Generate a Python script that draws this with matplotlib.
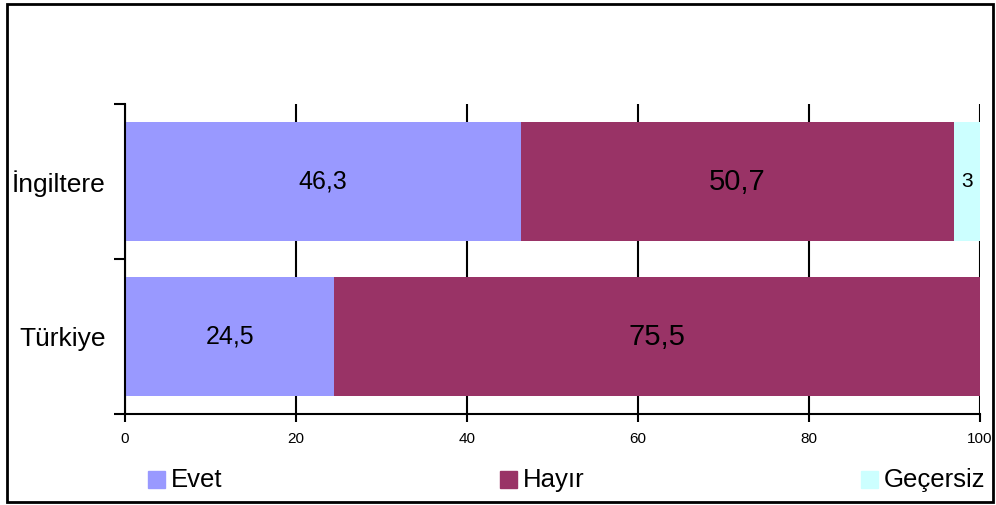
import numpy as np
import matplotlib
matplotlib.use("Agg")
import matplotlib.pyplot as plt
from matplotlib.patches import Rectangle

plt.rcParams['font.family'] = ['Liberation Sans', 'DejaVu Sans']

# datos
ulkeler = ["Türkiye", "İngiltere"]
seri_adlari = ["Evet", "Hayır", "Geçersiz"]
evet = [24.5, 46.3]
hayir = [75.5, 50.7]
gecersiz = [0.0, 3.0]
etiketler = [["24,5", "75,5", ""], ["46,3", "50,7", "3"]]

renkler = ["#9999ff", "#993366", "#ccffff"]
yazi_boyu = [18, 21, 15]

fig = plt.figure(figsize=(9.96, 5.05), dpi=100)
ax = fig.add_axes([0.1255, 0.1802, 0.8585, 0.6138])

y = np.arange(len(ulkeler))
sol = np.zeros(len(ulkeler))
for i, seri in enumerate([evet, hayir, gecersiz]):
    seri = np.array(seri)
    ax.barh(y, seri, left=sol, height=0.77, color=renkler[i], zorder=2)
    for j in range(len(ulkeler)):
        if etiketler[j][i]:
            ax.text(sol[j] + seri[j] / 2, y[j], etiketler[j][i], ha='center', va='center',
                    fontsize=yazi_boyu[i], zorder=3)
    sol = sol + seri

ax.set_xlim(0, 100)
ax.set_ylim(-0.5, 1.5)
ax.set_xticks([0, 20, 40, 60, 80, 100])
ax.set_xticklabels(["0", "20", "40", "60", "80", "100"], fontsize=11)
ax.set_yticks(y)
ax.set_yticklabels(ulkeler, fontsize=19)
ax.set_yticks([-0.5, 0.5, 1.5], minor=True)
ax.tick_params(axis='y', which='major', length=0, pad=14)
ax.tick_params(axis='y', which='minor', length=8, width=1.5, direction='out')
ax.tick_params(axis='x', length=6, width=1.5, direction='out', pad=7)
ax.grid(axis='x', color='black', linewidth=1.5, zorder=0)
ax.set_axisbelow(True)
ax.spines['top'].set_visible(False)
ax.spines['right'].set_visible(False)
ax.spines['left'].set_linewidth(1.5)
ax.spines['bottom'].set_linewidth(1.5)
ax.spines['bottom'].set_zorder(4)

# leyenda manual
W, H = 996, 505
xs = [148, 500, 861]
for i, ad in enumerate(seri_adlari):
    fig.patches.append(Rectangle((xs[i] / W, (H - 488) / H), 17 / W, 17 / H,
                                 transform=fig.transFigure, color=renkler[i]))
    fig.text((xs[i] + 23) / W, (H - 480) / H, ad, fontsize=18.5, va='center', ha='left')

# borde
fig.patches.append(Rectangle((7 / W, 3 / H), 986 / W, 498 / H, transform=fig.transFigure,
                             fill=False, edgecolor='black', linewidth=2))

fig.savefig("out.png", dpi=100)
